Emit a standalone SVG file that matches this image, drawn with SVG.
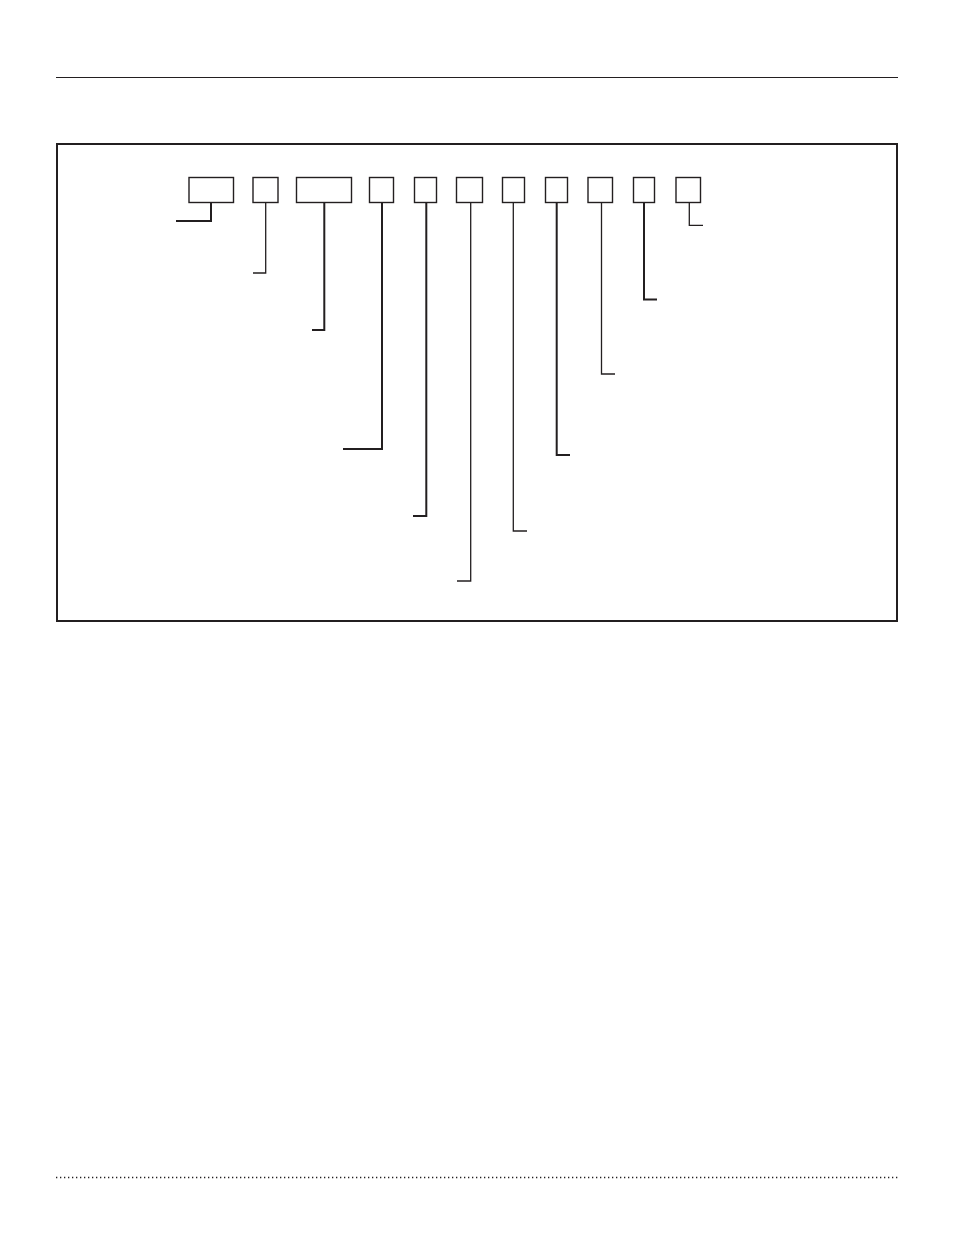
<svg xmlns="http://www.w3.org/2000/svg" width="954" height="1235" viewBox="0 0 954 1235">
<style>
.box{fill:#fff;stroke:#231f20;stroke-width:1.4}
.c{fill:none;stroke:#231f20;stroke-width:1.3}
.ct{fill:none;stroke:#231f20;stroke-width:2}
</style>
<rect width="954" height="1235" fill="#fff"/>
<line x1="56" y1="77.5" x2="898" y2="77.5" stroke="#231f20" stroke-width="1.2"/>
<rect x="57" y="144" width="840" height="477" fill="none" stroke="#231f20" stroke-width="2"/>
<line x1="56" y1="1177.5" x2="898" y2="1177.5" stroke="#231f20" stroke-width="1.3" stroke-dasharray="1.3 2.7"/>
<g id="connectors">
<polyline class="ct" points="211,202 211,221 176,221"/>
<polyline class="c" points="265.7,202 265.7,273 253,273"/>
<polyline class="ct" points="324.3,202 324.3,330 312,330"/>
<polyline class="ct" points="382,202 382,449 343,449"/>
<polyline class="ct" points="426.3,202 426.3,516 413,516"/>
<polyline class="c" points="470.7,202 470.7,581 457,581"/>
<polyline class="c" points="513.3,202 513.3,531 527,531"/>
<polyline class="ct" points="556.7,202 556.7,455 570,455"/>
<polyline class="c" points="601.5,202 601.5,374 615,374"/>
<polyline class="ct" points="644,202 644,299.5 657,299.5"/>
<polyline class="c" points="689.3,202 689.3,225.3 703,225.3"/>
</g>
<g id="n1"><rect class="box" x="189" y="177.5" width="44.5" height="25"/></g>
<g id="n2"><rect class="box" x="253" y="177.5" width="25" height="25"/></g>
<g id="n3"><rect class="box" x="296.5" y="177.5" width="55" height="25"/></g>
<g id="n4"><rect class="box" x="369.5" y="177.5" width="24" height="25"/></g>
<g id="n5"><rect class="box" x="414.5" y="177.5" width="22" height="25"/></g>
<g id="n6"><rect class="box" x="456.5" y="177.5" width="26" height="25"/></g>
<g id="n7"><rect class="box" x="502.5" y="177.5" width="22" height="25"/></g>
<g id="n8"><rect class="box" x="545.5" y="177.5" width="22" height="25"/></g>
<g id="n9"><rect class="box" x="588" y="177.5" width="24.5" height="25"/></g>
<g id="n10"><rect class="box" x="633.5" y="177.5" width="21" height="25"/></g>
<g id="n11"><rect class="box" x="676" y="177.5" width="24.5" height="25"/></g>
</svg>
